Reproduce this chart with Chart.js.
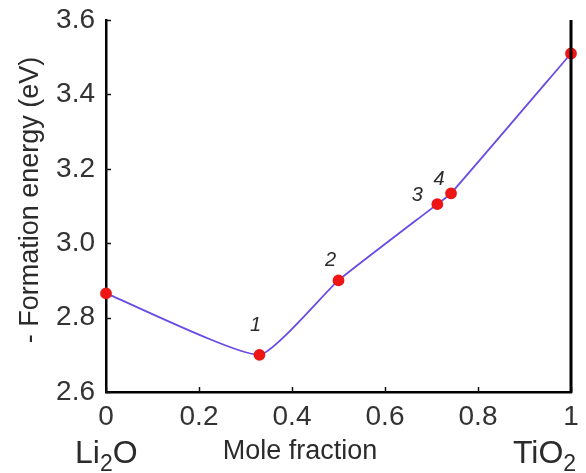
<!DOCTYPE html>
<html><head><meta charset="utf-8">
<script src="https://cdn.jsdelivr.net/npm/chart.js@4.4.1/dist/chart.umd.min.js"></script>
<style>html,body{margin:0;padding:0;background:#fff}#wrap{width:586px;height:473px;position:relative}</style>
</head><body><div id="wrap"><canvas id="c"></canvas></div>
<script>
// ---- data ----
const moleFraction = [0, 0.33, 0.5, 0.7125, 0.742, 1];
const formationEnergy = [2.865, 2.70, 2.90, 3.105, 3.134, 3.51];
const pointLabels = ['', '1', '2', '3', '4', ''];
const yTickValues = [2.6, 2.8, 3.0, 3.2, 3.4, 3.6];
const yTickLabels = ['2.6', '2.8', '3.0', '3.2', '3.4', '3.6'];
const xTickValues = [0, 0.2, 0.4, 0.6, 0.8, 1];
const xTickLabels = ['0', '0.2', '0.4', '0.6', '0.8', '1'];
const xTitle = 'Mole fraction';
const yTitle = '- Formation energy (eV)';
const leftEnd = ['Li', '2', 'O'];
const rightEnd = ['TiO', '2'];

const FONT = '"Liberation Sans", Arial, sans-serif';
const TXT = '#2b2b2b';
const labelOffsets = {1: [-4, -29], 2: [-8, -20], 3: [-20, -9], 4: [-12, -14]};

const decor = {
  id: 'decor',
  afterDraw(chart) {
    const ctx = chart.ctx, xs = chart.scales.x, ys = chart.scales.y, a = chart.chartArea;
    ctx.save();
    // inward tick marks
    ctx.strokeStyle = '#111'; ctx.lineWidth = 1.5;
    yTickValues.forEach(v => {
      const y = Math.round(ys.getPixelForValue(v)) + 0.5;
      ctx.beginPath(); ctx.moveTo(a.left, y); ctx.lineTo(a.left + 5, y); ctx.stroke();
    });
    xTickValues.forEach(v => {
      const x = Math.round(xs.getPixelForValue(v)) + 0.5;
      ctx.beginPath(); ctx.moveTo(x, a.bottom); ctx.lineTo(x, a.bottom - 5); ctx.stroke();
    });
    // right vertical line at x = 1
    const xr = xs.getPixelForValue(xTickValues[xTickValues.length - 1]);
    ctx.strokeStyle = '#000'; ctx.lineWidth = 3;
    ctx.beginPath(); ctx.moveTo(xr, a.top); ctx.lineTo(xr, a.bottom + 1); ctx.stroke();
    // point number labels
    ctx.fillStyle = TXT; ctx.font = 'italic 20px ' + FONT;
    ctx.textAlign = 'center'; ctx.textBaseline = 'middle';
    const meta = chart.getDatasetMeta(0);
    pointLabels.forEach((t, i) => {
      if (!t) return;
      const p = meta.data[i], o = labelOffsets[i] || [0, -20];
      ctx.fillText(t, p.x + o[0], p.y + o[1]);
    });
    // bottom texts
    ctx.textAlign = 'left'; ctx.textBaseline = 'alphabetic';
    let x = 75;
    ctx.font = '32px ' + FONT; ctx.fillText(leftEnd[0], x, 463); x += ctx.measureText(leftEnd[0]).width;
    ctx.font = '23px ' + FONT; ctx.fillText(leftEnd[1], x, 471); x += ctx.measureText(leftEnd[1]).width;
    ctx.font = '32px ' + FONT; ctx.fillText(leftEnd[2], x, 463);
    x = 513;
    ctx.font = '32px ' + FONT; ctx.fillText(rightEnd[0], x, 463); x += ctx.measureText(rightEnd[0]).width;
    ctx.font = '23px ' + FONT; ctx.fillText(rightEnd[1], x, 471);
    ctx.font = '27px ' + FONT; ctx.textAlign = 'center';
    ctx.fillText(xTitle, 300, 459);
    // y title
    ctx.translate(31, 200); ctx.rotate(-Math.PI / 2);
    ctx.font = '27px ' + FONT; ctx.textBaseline = 'middle';
    ctx.fillText(yTitle, 0, 0);
    ctx.restore();
  }
};

new Chart(document.getElementById('c'), {
  type: 'scatter',
  data: {
    datasets: [{
      data: moleFraction.map((x, i) => ({x, y: formationEnergy[i]})),
      showLine: true,
      borderColor: '#6a4be6',
      borderWidth: 1.8,
      tension: 0.15,
      pointBackgroundColor: '#ee1515',
      pointBorderColor: '#ee1515',
      pointRadius: 5,
      clip: false
    }]
  },
  options: {
    responsive: true, maintainAspectRatio: false, animation: false,
    devicePixelRatio: 1,
    layout: {padding: {left: 0, right: 15, top: 20, bottom: 0}},
    plugins: {legend: {display: false}, tooltip: {enabled: false}},
    scales: {
      x: {
        type: 'linear', min: 0, max: 1,
        afterBuildTicks: s => { s.ticks = xTickValues.map(v => ({value: v})); },
        afterFit: s => { s.height = 81; s.paddingLeft = 0; s.paddingRight = 0; },
        grid: {display: false, drawTicks: false},
        border: {display: true, color: '#000', width: 2.5},
        ticks: {
          padding: 8, color: '#333', font: {family: FONT, size: 28},
          maxRotation: 0, autoSkip: false,
          callback: (v, i) => xTickLabels[i]
        }
      },
      y: {
        type: 'linear', min: 2.6, max: 3.6,
        afterBuildTicks: s => { s.ticks = yTickValues.map(v => ({value: v})); },
        afterFit: s => { s.width = 106; s.paddingTop = 0; s.paddingBottom = 0; },
        grid: {display: false, drawTicks: false},
        border: {display: true, color: '#000', width: 2.5},
        ticks: {
          padding: 11, color: '#333', font: {family: FONT, size: 28},
          autoSkip: false,
          callback: (v, i) => yTickLabels[i]
        }
      }
    }
  },
  plugins: [decor]
});
</script>
</body></html>
